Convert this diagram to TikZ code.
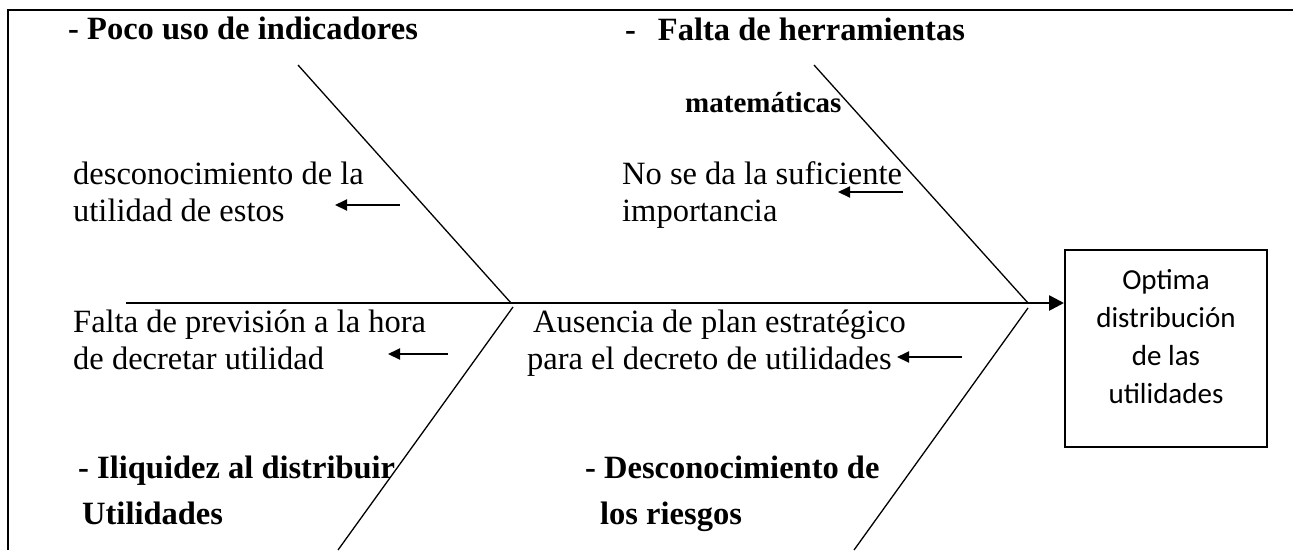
\documentclass[tikz,border=0pt]{standalone}
\usepackage{fontspec}
\setmainfont{Liberation Serif}
\newfontfamily\boxfont{Carlito}
\usetikzlibrary{
    arrows.meta,
    positioning
}
\tikzset{
    % Lines
    frame line/.style={line width=2pt},
    bone/.style={line width=1.3pt},
    %
    % Arrows
    arrow tip/.tip={Triangle[length=12pt,width=11pt]},
    arr/.style={->,>={arrow tip},line width=2pt},
    spine/.style={->,>={Triangle[length=15pt,width=15pt]},line width=2.6pt},
    %
    % Texts (base = last line)
    cause/.style={anchor=base west,inner sep=0pt,align=left},
    head/.style={cause,font=\fontsize{32.5}{46}\selectfont\bfseries},
    effect/.style={draw,line width=2pt,minimum width=202pt,minimum height=197pt,inner sep=0pt},
    effect text/.style={anchor=base,inner sep=0pt,align=center,font=\boxfont\fontsize{29}{38}\selectfont}
}
\tikzstyle{every node}=[font=\fontsize{32.5}{37}\selectfont]

\begin{document}
\begin{tikzpicture}[x=1pt,y=-1pt]
        \useasboundingbox (0,0) rectangle (1293,550);
        \draw[frame line] (8,550) -- (8,10) -- (1293,10);
        
        \node[effect] (res) at (1166,348.5) {};
        \node[effect text] (restext) at (1166,403) {Optima\\distribución\\de las\\utilidades};
        
        \coordinate (tail) at (126,303);
        \coordinate (j1) at (511,303);
        \coordinate (j2) at (1028,303);
        \coordinate (ul) at (298,65);
        \coordinate (ur) at (814,65);
        \coordinate (lltop) at (513,307);
        \coordinate (ll) at (338,550);
        \coordinate (lrtop) at (1028,308);
        \coordinate (lr) at (854,550);
        
        \draw[spine] (tail) -- (tail -| res.west);
        \draw[bone] (ul) -- (j1);
        \draw[bone] (ur) -- (j2);
        \draw[bone] (lltop) -- (ll);
        \draw[bone] (lrtop) -- (lr);
        
        \node[head] (poco) at (68,39) {- Poco uso de indicadores};
        \node[head] (herr) at (625,112) {-\hspace{22pt}Falta de herramientas\\[26pt]\hspace{60pt}{\fontsize{29}{46}\selectfont matemáticas}};
        \node[head] (iliq) at (78,524) {- Iliquidez al distribuir\\\hspace{4pt}Utilidades};
        \node[head] (riesg) at (585,524) {- Desconocimiento de\\\hspace{15pt}los riesgos};
        
        \node[cause] (descon) at (73,221) {desconocimiento de la\\utilidad de estos};
        \node[cause] (nose) at (622,221) {No se da la suficiente\\importancia};
        \node[cause] (prev) at (73,369) {Falta de previsión a la hora\\de decretar utilidad};
        \node[cause] (plan) at (527,369) {\hspace{6pt}Ausencia de plan estratégico\\para el decreto de utilidades};
        
        \coordinate (a1s) at (400,205);
        \coordinate (a1e) at (335,205);
        \coordinate (a2s) at (903,192);
        \coordinate (a2e) at (838,192);
        \coordinate (a3s) at (448,354);
        \coordinate (a3e) at (388,354);
        \coordinate (a4s) at (962,357);
        \coordinate (a4e) at (897,357);
        \draw[arr] (a1s) -- (a1e);
        \draw[arr] (a2s) -- (a2e);
        \draw[arr] (a3s) -- (a3e);
        \draw[arr] (a4s) -- (a4e);
    \end{tikzpicture}
\end{document}
